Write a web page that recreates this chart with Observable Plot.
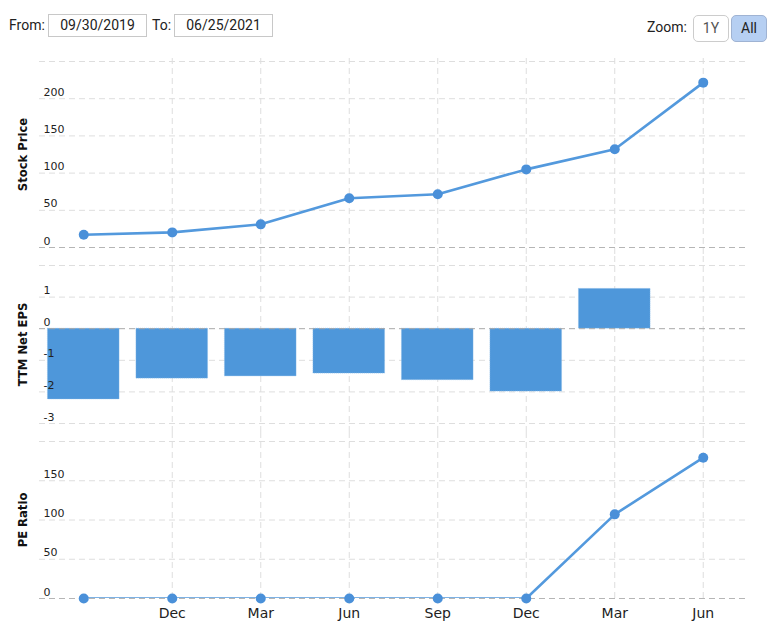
<!DOCTYPE html>
<html>
<head>
<meta charset="utf-8">
<script src="https://cdn.jsdelivr.net/npm/d3@7"></script>
<script src="https://cdn.jsdelivr.net/npm/@observablehq/plot@0.6"></script>
<style>
  html, body { margin: 0; padding: 0; background: #fff; }
  #wrap { width: 778px; height: 625px; position: relative; overflow: hidden; }
  #header { position: relative; height: 50px; font-family: Roboto, "Liberation Sans", sans-serif; font-size: 14px; color: #222; }
  .lbl { position: absolute; top: 17px; }
  .box { position: absolute; top: 14px; height: 21px; border: 1px solid #c8c8c8; text-align: center; line-height: 21px; color: #222; box-sizing: content-box; }
  .btn { position: absolute; top: 15px; height: 25px; border: 1px solid #cccccc; border-radius: 5px; text-align: center; line-height: 25px; box-sizing: content-box; }
  .panel svg { display: block; }
</style>
</head>
<body>
<div id="wrap">
  <div id="header">
    <span class="lbl" style="left:9px">From:</span>
    <div class="box" style="left:48px;width:97px">09/30/2019</div>
    <span class="lbl" style="left:152px">To:</span>
    <div class="box" style="left:174px;width:97px">06/25/2021</div>
    <span class="lbl" style="left:647px;top:19px">Zoom:</span>
    <div class="btn" style="left:693px;width:34px;background:#fff;color:#555">1Y</div>
    <div class="btn" style="left:731px;width:34px;background:#b6cff2;border-color:#9fb3d3;color:#222">All</div>
  </div>
  <div class="panel" id="p1"></div>
  <div class="panel" id="p2"></div>
  <div class="panel" id="p3"></div>
</div>
<script>
// ---- data ----
const quarters = ["2019-09", "2019-12", "2020-03", "2020-06", "2020-09", "2020-12", "2021-03", "2021-06"];
const quarterLabels = ["", "Dec", "Mar", "Jun", "Sep", "Dec", "Mar", "Jun"];
const stockPrice = [17.2, 20.3, 31.1, 66.2, 71.6, 105, 132, 221.6];
const ttmNetEps = [-2.24, -1.58, -1.51, -1.42, -1.63, -1.99, 1.26, null];
const peRatio = [0, 0, 0, 0, 0, 0, 107.2, 179.4];

const priceTicks = [0, 50, 100, 150, 200];
const priceGrid = [0, 50, 100, 150, 200, 250];
const epsTicks = [-3, -2, -1, 0, 1];
const epsGrid = [-3, -2, -1, 0, 1, 2];
const peTicks = [0, 50, 100, 150];
const peGrid = [0, 50, 100, 150, 200];

// ---- helpers ----
const labelOf = new Map(quarters.map((q, i) => [q, quarterLabels[i]]));
const rows = quarters.map((q, i) => ({q, price: stockPrice[i], eps: ttmNetEps[i], pe: peRatio[i]}));
const W = 778;
const lineColor = "#5399dd";
const dotColor = "#4a90d9";
const barColor = "#4e97da";
const gridColor = "#dedede";
const zeroColor = "#b5b5b5";
const FONT = "DejaVu Sans, Verdana, sans-serif";

function xScale(showAxis) {
  return {
    type: "band", domain: quarters, paddingInner: 0.19, paddingOuter: 0.095, round: false,
    axis: showAxis ? "bottom" : null, tickSize: 0, tickPadding: 10, label: null,
    tickFormat: d => labelOf.get(d)
  };
}

function tickText(ticks) {
  return Plot.text(ticks, {y: d => d, text: d => String(d), frameAnchor: "left", textAnchor: "start", lineAnchor: "bottom", dx: 4, dy: -3, fontSize: 11, fill: "#222"});
}
function titleText(title) {
  return Plot.text([title], {text: d => d, frameAnchor: "left", dx: -16, rotate: -90, textAnchor: "middle", fontSize: 11.6, fontWeight: "bold", fill: "#111"});
}

function gridMarks(grid, ticks, title, insetTop, insetBottom, zeroVal) {
  return [
    Plot.ruleY(grid.filter(v => v !== zeroVal), {y: d => d, stroke: gridColor, strokeWidth: 1, strokeDasharray: "6,4"}),
    Plot.ruleX(quarters.slice(1), {x: d => d, stroke: gridColor, strokeWidth: 1, strokeDasharray: "6,4", insetTop, insetBottom}),
    Plot.ruleY([zeroVal], {y: d => d, stroke: zeroColor, strokeWidth: 1, strokeDasharray: "6,4"}),
    tickText(ticks),
    titleText(title)
  ];
}

const style = {fontFamily: FONT, fontSize: "14px", color: "#222", background: "transparent", overflow: "visible"};

// Panel 1: stock price
const p1 = Plot.plot({
  width: W, height: 206, marginTop: 11, marginBottom: 9, marginLeft: 39, marginRight: 31,
  style,
  x: xScale(false),
  y: {domain: [0, 250], axis: null},
  marks: [
    ...gridMarks(priceGrid, priceTicks, "Stock Price", -3, -9, 0),
    Plot.line(rows, {x: "q", y: "price", stroke: lineColor, strokeWidth: 2.6}),
    Plot.dot(rows, {x: "q", y: "price", r: 5, fill: dotColor, stroke: "none"})
  ]
});
document.getElementById("p1").appendChild(p1);

// Panel 2: TTM Net EPS
const p2 = Plot.plot({
  width: W, height: 176, marginTop: 9, marginBottom: 9, marginLeft: 39, marginRight: 31,
  style,
  x: xScale(false),
  y: {domain: [-3, 2], axis: null},
  marks: [
    Plot.ruleY(epsGrid.filter(v => v !== 0), {y: d => d, stroke: gridColor, strokeWidth: 1, strokeDasharray: "6,4"}),
    Plot.ruleX(quarters.slice(1), {x: d => d, stroke: gridColor, strokeWidth: 1, strokeDasharray: "6,4", insetTop: -9, insetBottom: -9}),
    Plot.barY(rows.filter(d => d.eps != null), {x: "q", y: "eps", fill: barColor, stroke: "#8fbdea", strokeWidth: 0.6, strokeDasharray: "1,1"}),
    Plot.ruleY([0], {y: d => d, stroke: "#a8a8a8", strokeWidth: 1, strokeDasharray: "6,4"}),
    tickText(epsTicks),
    titleText("TTM Net EPS")
  ]
});
document.getElementById("p2").appendChild(p2);

// Panel 3: PE ratio
const p3 = Plot.plot({
  width: W, height: 193, marginTop: 9, marginBottom: 27, marginLeft: 39, marginRight: 31,
  style,
  x: xScale(true),
  y: {domain: [0, 200], axis: null},
  marks: [
    ...gridMarks(peGrid, peTicks, "PE Ratio", -9, 0, 0),
    Plot.line(rows, {x: "q", y: "pe", stroke: lineColor, strokeWidth: 2.6, clip: true}),
    Plot.dot(rows, {x: "q", y: "pe", r: 5, fill: dotColor, stroke: "none"})
  ]
});
document.getElementById("p3").appendChild(p3);
</script>
</body>
</html>
